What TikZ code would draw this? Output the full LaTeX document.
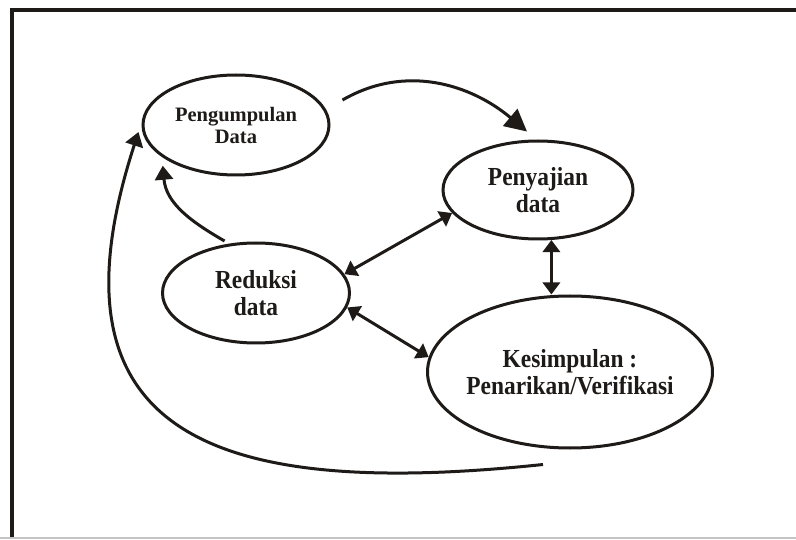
\documentclass[tikz,border=0pt]{standalone}
\usepackage{fontspec}
\setmainfont{Liberation Serif}
\newfontfamily\stagefont[FakeStretch=0.9]{Liberation Serif}
\usetikzlibrary{arrows.meta,shapes.geometric,calc}

\begin{document}
\begin{tikzpicture}[x=1pt,y=1pt]

	% ============================================================
	% COLORS
	% ============================================================
	\definecolor{ink}{HTML}{1E1A18}
	\definecolor{edgeGray}{HTML}{C4C4C4}

	% ============================================================
	% STYLES
	% ============================================================
	\tikzset{
		stage/.style={
			ellipse,
			draw=ink,
			line width=3pt,
			inner sep=0pt,
			align=center,
			font=\stagefont\bfseries\fontsize{26}{26.5}\selectfont,
			text=ink
		},
	arr/.style={-{Triangle[length=14pt,width=18pt]},line width=3pt,draw=ink},
	bigArr/.style={-{Triangle[length=22pt,width=22pt]},line width=3pt,draw=ink},
	dblArr/.style={{Triangle[length=12pt,width=17pt]}-{Triangle[length=12pt,width=17pt]},line width=3pt,draw=ink}
	}

	% ============================================================
	% CANVAS + FRAME (796 x 539)
	% ============================================================
	\useasboundingbox (0,0) rectangle (796,539);
	\fill[white] (0,0) rectangle (796,539);
	\draw[line width=3.5pt, draw=ink] (12,0) -- (12,529) -- (796,529);
	\draw[line width=1.5pt, draw=edgeGray] (0,1) -- (796,1);

	% ============================================================
	% STAGES
	% ============================================================
	\node[stage, minimum width=186pt, minimum height=100pt,
		font=\bfseries\fontsize{20.5}{22}\selectfont] (collect) at (236,414) {Pengumpulan\\Data};
	\node[stage, minimum width=190pt, minimum height=98pt]  (present)  at (538,349) {Penyajian\\data};
	\node[stage, minimum width=187pt, minimum height=100pt] (reduce)   at (256,246) {Reduksi\\data};
	\node[stage, minimum width=285pt, minimum height=152pt, inner xsep=-6pt] (conclude) at (570,167) {Kesimpulan :\\Penarikan/Verifikasi};

	% ============================================================
	% ARROWS - ONE WAY
	% ============================================================
	\draw[bigArr] ([shift={(12,25)}]collect.east) to[out=30, in=140] ([shift={(-11,8)}]present.north);
	\draw[arr] ([shift={(-2,3)}]reduce.121) to[out=150, in=-85] ([shift={(-7,-4)}]collect.209);

	% long return loop
	\draw[arr] ([shift={(-27,-15)}]conclude.south) .. controls +(186:330) and +(252:320) .. ([shift={(-3,-7)}]collect.west);

	% ============================================================
	% ARROWS - TWO WAY
	% ============================================================
	\draw[dblArr] (reduce.12) -- (present.195);
	\draw[dblArr] (reduce.351) -- (conclude.174);
	\draw[dblArr] (present.285) -- (present.285 |- conclude.north);

\end{tikzpicture}
\end{document}
